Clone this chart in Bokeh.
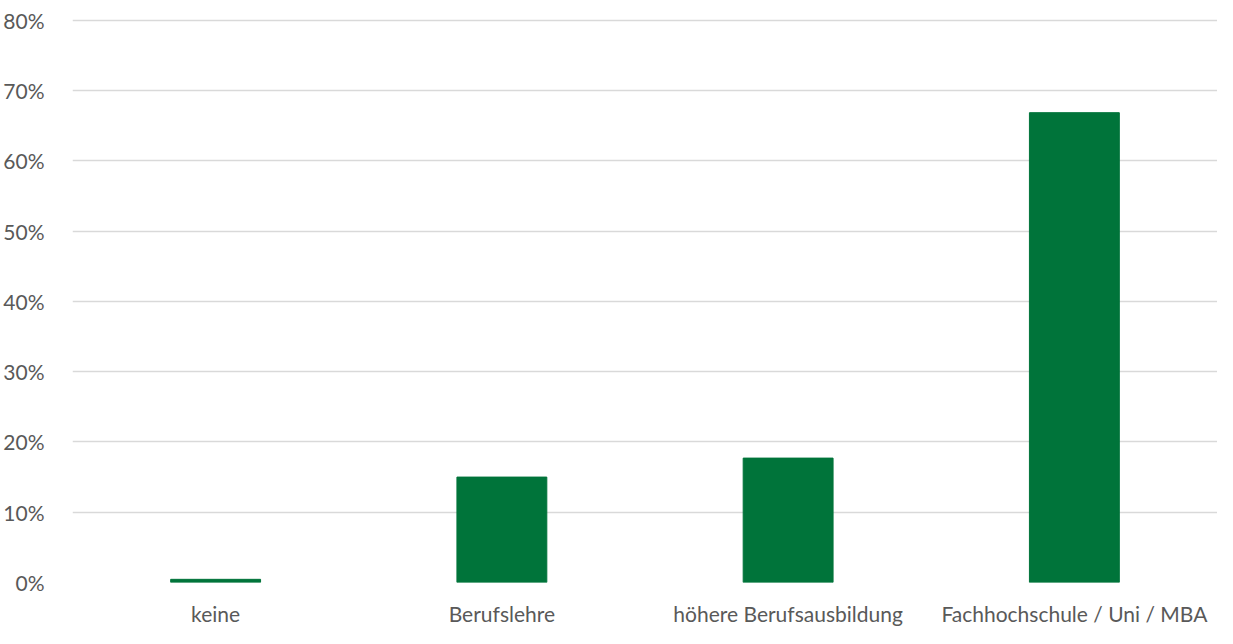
from bokeh.plotting import figure
from bokeh.models import FactorRange, Range1d, NumeralTickFormatter, FixedTicker, ColumnDataSource
from bokeh.embed import file_html
from bokeh.resources import INLINE

categories = ["keine", "Berufslehre", "höhere Berufsausbildung", "Fachhochschule / Uni / MBA"]
values = [0.0045, 0.150, 0.177, 0.6685]
y_ticks = [0, 0.1, 0.2, 0.3, 0.4, 0.5, 0.6, 0.7, 0.8]

src = ColumnDataSource(dict(cat=categories, val=values))

p = figure(width=1217, height=628, x_range=FactorRange(*categories, range_padding=0),
           y_range=Range1d(0, 0.8025), output_backend="svg", toolbar_location=None,
           min_border_left=72, min_border_right=0, min_border_top=18, min_border_bottom=40)
p.outline_line_color = None

p.vbar(x="cat", top="val", width=0.314, source=src, color="#00743A")

font = "Lato"
p.yaxis.ticker = FixedTicker(ticks=y_ticks)
p.yaxis.formatter = NumeralTickFormatter(format="0%")
for ax in (p.xaxis, p.yaxis):
    ax.axis_line_color = None
    ax.major_tick_line_color = None
    ax.minor_tick_line_color = None
    ax.major_label_text_font = font
    ax.major_label_text_font_size = "21px"
    ax.major_label_text_color = "#595959"
p.yaxis.major_label_standoff = 22
p.xaxis.major_label_standoff = 12
p.xgrid.grid_line_color = None
p.ygrid.grid_line_color = "#d9d9d9"
p.ygrid.grid_line_width = 1.3

open("out.html", "w").write(file_html(p, INLINE))
